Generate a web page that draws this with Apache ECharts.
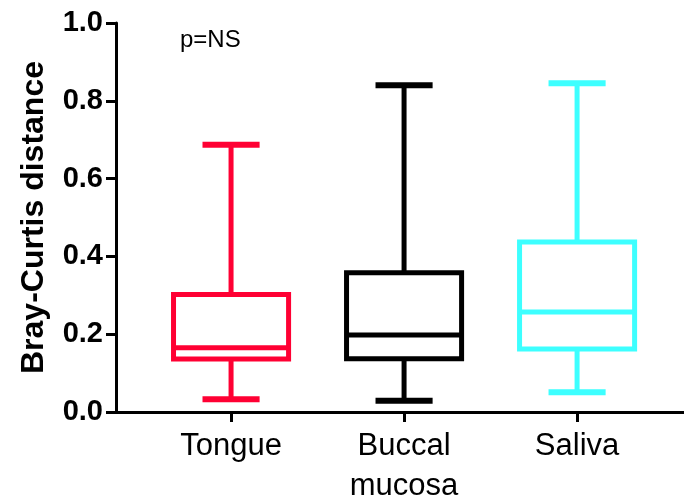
<!DOCTYPE html>
<html>
  <head>
    <meta charset="UTF-8">
    <title>Bray-Curtis boxplot</title>
    <script src="https://cdn.jsdelivr.net/npm/echarts@6.0.0/dist/echarts.min.js"></script>
    <style>
      html, body { margin: 0; padding: 0; background: #fff; }
      #main { width: 684px; height: 498px; }
    </style>
  </head>
  <body>
    <div id="main"></div>
    <script type="text/javascript">
      // categories and their box statistics (min, Q1, median, Q3, max)
      var groups = ['Tongue', 'Buccal\nmucosa', 'Saliva'];
      var positions = [1, 2, 3];
      var mins    = [0.033, 0.029, 0.051];
      var q1s     = [0.136, 0.137, 0.162];
      var medians = [0.165, 0.198, 0.257];
      var q3s     = [0.302, 0.358, 0.437];
      var maxs    = [0.687, 0.840, 0.845];
      var colors  = ['#ff0033', '#000000', '#3dffff'];

      var boxData = [];
      for (var i = 0; i < groups.length; i++) {
        boxData.push([positions[i], mins[i], q1s[i], medians[i], q3s[i], maxs[i], i]);
      }

      var FONT = 'Liberation Sans, Arial, sans-serif';

      function renderBox(params, api) {
        var x = api.value(0);
        var idx = api.value(6);
        var col = colors[idx];
        var unit = api.size([1, 0])[0];
        var halfBox = unit * 0.665 / 2;   // box width
        var halfCap = unit * 0.33 / 2;    // whisker cap width
        var pMin = api.coord([x, api.value(1)]);
        var pQ1  = api.coord([x, api.value(2)]);
        var pMed = api.coord([x, api.value(3)]);
        var pQ3  = api.coord([x, api.value(4)]);
        var pMax = api.coord([x, api.value(5)]);
        var cx = pMed[0];
        var st = { stroke: col, lineWidth: 5, fill: null };
        return {
          type: 'group',
          children: [
            { type: 'line', shape: { x1: cx, y1: pMax[1], x2: cx, y2: pQ3[1] }, style: st },
            { type: 'line', shape: { x1: cx, y1: pQ1[1], x2: cx, y2: pMin[1] }, style: st },
            { type: 'line', shape: { x1: cx - halfCap, y1: pMax[1], x2: cx + halfCap, y2: pMax[1] }, style: { stroke: col, lineWidth: 6 } },
            { type: 'line', shape: { x1: cx - halfCap, y1: pMin[1], x2: cx + halfCap, y2: pMin[1] }, style: { stroke: col, lineWidth: 6 } },
            { type: 'rect', shape: { x: cx - halfBox, y: pQ3[1], width: halfBox * 2, height: pQ1[1] - pQ3[1] }, style: st },
            { type: 'line', shape: { x1: cx - halfBox, y1: pMed[1], x2: cx + halfBox, y2: pMed[1] }, style: st }
          ]
        };
      }

      var chart = echarts.init(document.getElementById('main'));
      chart.setOption({
        animation: false,
        backgroundColor: '#ffffff',
        title: {
          text: 'p=NS',
          left: 180,
          top: 28,
          padding: 0,
          textStyle: { fontFamily: FONT, fontSize: 24, fontWeight: 'normal', color: '#000' }
        },
        grid: { left: 116, right: 0, top: 23, bottom: 86, outerBoundsMode: 'none' },
        xAxis: {
          type: 'value',
          min: 0.335,
          max: 3.618,
          splitLine: { show: false },
          axisLine: { show: true, onZero: false, lineStyle: { color: '#000', width: 3 } },
          axisTick: { show: true, customValues: positions, length: 10, lineStyle: { color: '#000', width: 3 } },
          axisLabel: {
            customValues: positions,
            margin: 14,
            fontFamily: FONT,
            fontSize: 31,
            color: '#000',
            lineHeight: 40,
            formatter: function (v) {
              var k = positions.indexOf(v);
              return k >= 0 ? groups[k] : '';
            }
          }
        },
        yAxis: {
          type: 'value',
          min: 0,
          max: 1,
          interval: 0.2,
          name: 'Bray-Curtis distance',
          nameLocation: 'middle',
          nameGap: 66,
          nameTextStyle: { fontFamily: FONT, fontSize: 32, fontWeight: 'bold', color: '#000' },
          splitLine: { show: false },
          axisLine: { show: true, lineStyle: { color: '#000', width: 3 } },
          axisTick: { show: true, length: 10, lineStyle: { color: '#000', width: 3 } },
          axisLabel: {
            margin: 13,
            fontFamily: FONT,
            fontSize: 29,
            fontWeight: 'bold',
            color: '#000',
            formatter: function (v) { return v.toFixed(1); }
          }
        },
        series: [{
          type: 'custom',
          renderItem: renderBox,
          encode: { x: 0, y: [1, 2, 3, 4, 5] },
          data: boxData
        }]
      });
    </script>
  </body>
</html>
